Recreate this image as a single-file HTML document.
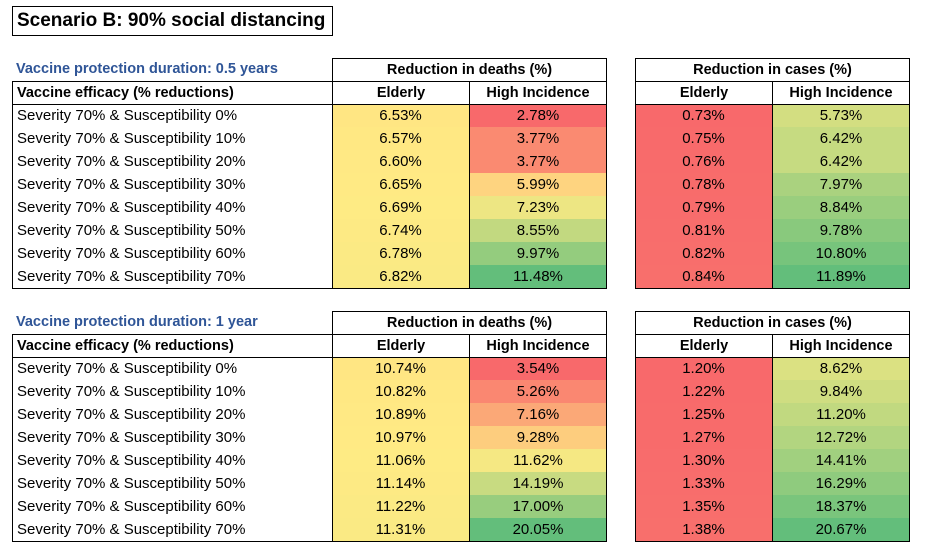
<!DOCTYPE html>
<html><head><meta charset="utf-8"><style>
body{margin:0;width:938px;height:549px;background:#fff;font-family:"Liberation Sans",sans-serif;position:relative;overflow:hidden}
.c{position:absolute;box-sizing:border-box;font-size:15px;line-height:23px;color:#000;white-space:nowrap;overflow:hidden}
.b{border:1px solid #000}
.ctr{text-align:center}
.bold{font-weight:bold;font-size:14.5px}
</style></head><body>
<div class="c b" style="left:12px;top:6px;width:321px;height:30px;line-height:28px;font-size:19px;padding-left:4px;font-weight:bold">Scenario B: 90% social distancing</div>
<div id="root"></div>
<script>
const rowLabels=["Severity 70% & Susceptibility 0%","Severity 70% & Susceptibility 10%","Severity 70% & Susceptibility 20%","Severity 70% & Susceptibility 30%","Severity 70% & Susceptibility 40%","Severity 70% & Susceptibility 50%","Severity 70% & Susceptibility 60%","Severity 70% & Susceptibility 70%"];
const deathsElderly05=[6.53,6.57,6.60,6.65,6.69,6.74,6.78,6.82];
const deathsHigh05=[2.78,3.77,3.77,5.99,7.23,8.55,9.97,11.48];
const casesElderly05=[0.73,0.75,0.76,0.78,0.79,0.81,0.82,0.84];
const casesHigh05=[5.73,6.42,6.42,7.97,8.84,9.78,10.80,11.89];
const deathsElderly1=[10.74,10.82,10.89,10.97,11.06,11.14,11.22,11.31];
const deathsHigh1=[3.54,5.26,7.16,9.28,11.62,14.19,17.00,20.05];
const casesElderly1=[1.20,1.22,1.25,1.27,1.30,1.33,1.35,1.38];
const casesHigh1=[8.62,9.84,11.20,12.72,14.41,16.29,18.37,20.67];

const root=document.getElementById('root');
function cell(x,y,w,h,txt,cls,bg,name){
  const d=document.createElement('div');
  d.className='c '+cls;
  d.style.left=x+'px';d.style.top=y+'px';d.style.width=w+'px';d.style.height=h+'px';
  if(bg)d.style.background=bg;
  d.textContent=txt;
  
  
  root.appendChild(d);return d;
}
const R=[248,105,107],Y=[255,235,132],G=[99,190,123];
function median(a){const s=a.slice().sort((p,q)=>p-q);const n=s.length;return (s[n/2-1]+s[n/2])/2;}
function colorFn(all){
  const mn=Math.min(...all),mx=Math.max(...all),md=median(all);
  return v=>{let a,b,t;
    if(v<=md){a=R;b=Y;t=md>mn?(v-mn)/(md-mn):1;}else{a=Y;b=G;t=(v-md)/(mx-md);}
    const c=a.map((x,i)=>Math.round(x+(b[i]-x)*t));return `rgb(${c})`;};
}
function block(top,subtitle,de,dh,ce,ch){
  const t=cell(12,top,320,23,subtitle,'bold','', 'duration-label');
  t.style.color='#2F5597';t.style.paddingLeft='4px';
  cell(332,top,275,24,'Reduction in deaths (%)','b ctr bold','','deaths-group-header');
  cell(635,top,275,24,'Reduction in cases (%)','b ctr bold','','cases-group-header');
  const h=top+23;
  const lh=cell(12,h,321,24,'Vaccine efficacy (% reductions)','b bold','','efficacy-header');lh.style.paddingLeft='4px';
  cell(332,h,138,24,'Elderly','b ctr bold','','deaths-elderly-header');
  cell(469,h,138,24,'High Incidence','b ctr bold','','deaths-high-header');
  cell(635,h,138,24,'Elderly','b ctr bold','','cases-elderly-header');
  cell(772,h,138,24,'High Incidence','b ctr bold','','cases-high-header');
  const d0=h+23;
  cell(12,d0,321,185,'','b','','row-labels-box');
  cell(332,d0,275,185,'','b','','deaths-box').style.zIndex=2;
  cell(635,d0,275,185,'','b','','cases-box').style.zIndex=2;
  const cd=colorFn(de.concat(dh)),cc=colorFn(ce.concat(ch));
  rowLabels.forEach((l,i)=>{
    const y=d0+i*23;
    const r=cell(12,y,320,23,l,'','','row-label');r.style.paddingLeft='5px';
    cell(332,y,137,23,de[i].toFixed(2)+'%','ctr',cd(de[i]),'deaths-elderly-cell');
    cell(469,y,138,23,dh[i].toFixed(2)+'%','ctr',cd(dh[i]),'deaths-high-cell');
    cell(635,y,137,23,ce[i].toFixed(2)+'%','ctr',cc(ce[i]),'cases-elderly-cell');
    cell(772,y,138,23,ch[i].toFixed(2)+'%','ctr',cc(ch[i]),'cases-high-cell');
  });
  cell(469,h,1,208,'','','#000','divider');
  cell(772,h,1,208,'','','#000','divider');
}
block(58,'Vaccine protection duration: 0.5 years',deathsElderly05,deathsHigh05,casesElderly05,casesHigh05);
block(311,'Vaccine protection duration: 1 year',deathsElderly1,deathsHigh1,casesElderly1,casesHigh1);
</script>
</body></html>
